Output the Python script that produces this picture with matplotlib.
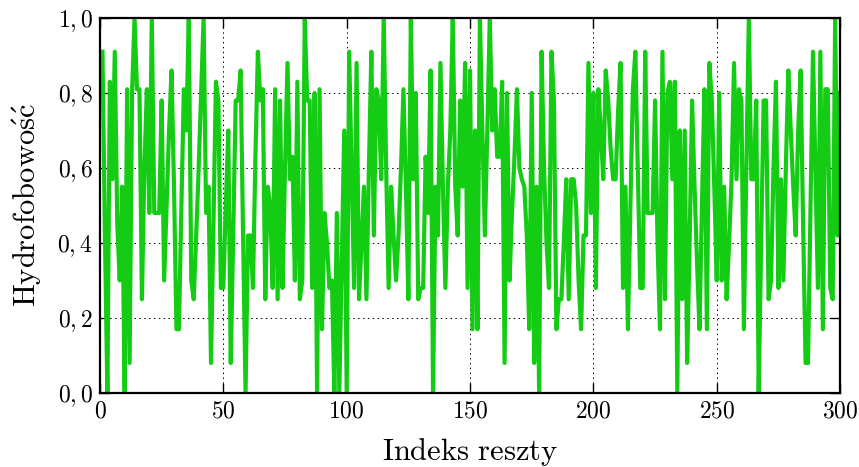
import numpy as np
import matplotlib
matplotlib.use("Agg")
import matplotlib.pyplot as plt
from matplotlib.ticker import FixedLocator, FixedFormatter

plt.rcParams["mathtext.fontset"] = "cm"
plt.rcParams["font.family"] = ["cmr10", "DejaVu Serif"]
plt.rcParams["axes.unicode_minus"] = False

LINE_COLOR = "#14CC14"

# hydrophobicity per residue (residues 1..300)
hydro = [
    0.91, 0.42, 0.00, 0.83, 0.57, 0.91, 0.45, 0.30, 0.55, 0.00, 0.81, 0.08, 0.80, 1.00, 0.81, 0.81, 0.25, 0.60, 0.81, 0.48, 1.00, 0.48, 0.48, 0.48, 0.78,
    0.30, 0.50, 0.70, 0.86, 0.55, 0.17, 0.17, 0.50, 0.81, 0.70, 1.00, 0.30, 0.25, 0.42, 0.60, 0.80, 1.00, 0.48, 0.55, 0.08, 0.45, 0.83, 0.78, 0.28, 0.28,
    0.50, 0.70, 0.08, 0.42, 0.78, 0.78, 0.86, 0.42, 0.00, 0.42, 0.42, 0.28, 0.63, 0.91, 0.78, 0.81, 0.25, 0.55, 0.50, 0.28, 0.81, 0.25, 0.78, 0.28, 0.60,
    0.88, 0.57, 0.63, 0.30, 0.83, 0.25, 0.30, 1.00, 0.78, 0.78, 0.28, 0.80, 0.00, 0.81, 0.17, 0.48, 0.40, 0.28, 0.30, 0.00, 0.48, 0.00, 0.35, 0.70, 0.00,
    0.91, 0.60, 0.28, 0.88, 0.25, 0.40, 0.55, 0.25, 0.60, 0.91, 0.42, 0.81, 0.78, 0.57, 1.00, 0.60, 0.28, 0.55, 0.42, 0.30, 0.42, 0.60, 0.81, 0.55, 0.25,
    1.00, 0.57, 0.80, 0.25, 0.28, 0.28, 0.63, 0.48, 0.86, 0.00, 0.55, 0.42, 0.88, 0.55, 0.28, 0.55, 0.70, 1.00, 0.55, 0.42, 0.78, 0.55, 0.88, 0.28, 0.86,
    0.17, 0.70, 0.17, 1.00, 0.70, 0.42, 0.70, 1.00, 0.70, 0.81, 0.63, 0.63, 0.83, 0.08, 0.80, 0.30, 0.48, 0.63, 0.81, 0.60, 0.57, 0.55, 0.42, 0.17, 0.80,
    0.08, 0.55, 0.00, 0.91, 0.60, 0.40, 0.28, 0.91, 0.78, 0.17, 0.25, 0.25, 0.40, 0.57, 0.25, 0.57, 0.57, 0.50, 0.30, 0.17, 0.42, 0.42, 0.88, 0.48, 0.80,
    0.28, 0.81, 0.70, 0.57, 0.86, 0.78, 0.65, 0.57, 0.57, 0.75, 0.88, 0.28, 0.55, 0.17, 0.50, 0.81, 0.91, 0.60, 0.28, 0.28, 0.91, 0.48, 0.48, 0.48, 0.78,
    0.40, 0.17, 0.91, 0.25, 0.80, 0.83, 0.57, 0.83, 0.00, 0.70, 0.25, 0.70, 0.08, 0.40, 0.78, 0.55, 0.35, 0.17, 0.50, 0.81, 0.17, 0.88, 0.78, 0.55, 0.30,
    0.80, 0.30, 0.55, 0.25, 0.40, 0.57, 0.88, 0.57, 0.81, 0.78, 0.17, 0.60, 1.00, 0.57, 0.57, 0.78, 0.00, 0.40, 0.78, 0.78, 0.25, 0.30, 0.60, 0.83, 0.28,
    0.57, 0.30, 0.60, 0.86, 0.70, 0.55, 0.42, 0.70, 0.86, 0.45, 0.08, 0.08, 0.50, 0.91, 0.60, 0.28, 0.91, 0.17, 0.81, 0.81, 0.28, 0.25, 1.00, 0.42, 0.80,
]
residues = np.arange(1, len(hydro) + 1)

x_ticks = [0, 50, 100, 150, 200, 250, 300]
y_ticks = [0.0, 0.2, 0.4, 0.6, 0.8, 1.0]
y_tick_labels = [r"$0,0$", r"$0,2$", r"$0,4$", r"$0,6$", r"$0,8$", r"$1,0$"]

fig = plt.figure(figsize=(8.59, 4.67), dpi=100)
ax = fig.add_axes([0.1164, 0.1585, 0.8616, 0.803])

ax.plot(residues, hydro, color=LINE_COLOR, linewidth=3.0, solid_joinstyle="round")

ax.set_xlim(0, 300)
ax.set_ylim(0, 1)
ax.xaxis.set_major_locator(FixedLocator(x_ticks))
ax.xaxis.set_major_formatter(FixedFormatter([rf"${t}$" for t in x_ticks]))
ax.yaxis.set_major_locator(FixedLocator(y_ticks))
ax.yaxis.set_major_formatter(FixedFormatter(y_tick_labels))

ax.tick_params(direction="in", length=7, width=1.0, labelsize=17,
               top=True, right=True, pad=5)
ax.grid(True, color="black", linestyle=(0, (1.5, 3.5)), linewidth=0.7)
for s in ax.spines.values():
    s.set_linewidth(1.6)

ax.set_xlabel(r"$\mathrm{Indeks\ reszty}$", fontsize=22, labelpad=10)
ax.set_ylabel(r"$\mathrm{Hydrofobowo\acute{s}\acute{c}}$", fontsize=22, labelpad=10)

fig.savefig("out.png", dpi=100)
